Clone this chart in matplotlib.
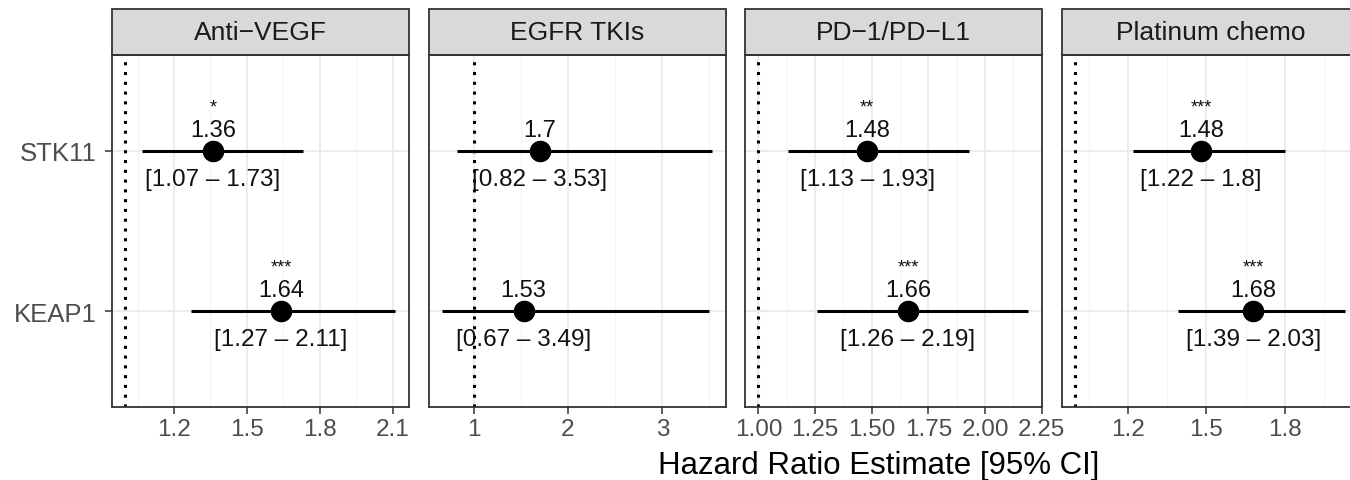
import matplotlib
matplotlib.use("Agg")
import matplotlib.pyplot as plt
from matplotlib.patches import Rectangle
from matplotlib.ticker import MultipleLocator, FormatStrFormatter

plt.rcParams['font.family'] = ['Liberation Sans', 'DejaVu Sans']

# данные
treatments = ['Anti\u2212VEGF', 'EGFR TKIs', 'PD\u22121/PD\u2212L1', 'Platinum chemo']
genes = ['STK11', 'KEAP1']
hr = [[1.36, 1.64], [1.70, 1.53], [1.48, 1.66], [1.48, 1.68]]
ci_low = [[1.07, 1.27], [0.82, 0.67], [1.13, 1.26], [1.22, 1.39]]
ci_high = [[1.73, 2.11], [3.53, 3.49], [1.93, 2.19], [1.80, 2.03]]
stars = [['*', '***'], ['', ''], ['**', '***'], ['***', '***']]

# шаги делений по оси x для каждой панели
major_step = [0.3, 1.0, 0.25, 0.3]
tick_fmt = ['%.1f', '%g', '%.2f', '%.1f']

W, H = 1350, 481
fig = plt.figure(figsize=(W / 100, H / 100), dpi=100)

lefts = [112, 429, 745, 1062]
pw = 297
top_px, bot_px = 56, 408
strip_h = 46 / (bot_px - top_px)

border = '#333333'
ypos = [2, 1]  # STK11 сверху, KEAP1 снизу

for i, name in enumerate(treatments):
    ax = fig.add_axes([lefts[i] / W, 1 - bot_px / H, pw / W, (bot_px - top_px) / H])

    lo_all = min(min(ci_low[i]), 1.0)
    hi_all = max(max(ci_high[i]), 1.0)
    pad = 0.05 * (hi_all - lo_all)
    ax.set_xlim(lo_all - pad, hi_all + pad + 0.002)
    ax.set_ylim(0.4, 2.6)

    ax.xaxis.set_major_locator(MultipleLocator(major_step[i]))
    ax.xaxis.set_minor_locator(MultipleLocator(major_step[i] / 2))
    ax.xaxis.set_major_formatter(FormatStrFormatter(tick_fmt[i]))
    ax.set_yticks(ypos)

    ax.set_axisbelow(True)
    ax.grid(which='major', color='#EBEBEB', lw=1.3)
    ax.grid(which='minor', axis='x', color='#F2F2F2', lw=0.7)

    ax.axvline(1, color='black', ls=(0, (1, 2.2)), lw=2.2, zorder=2)
    ax.hlines(ypos, ci_low[i], ci_high[i], color='black', lw=2.2, zorder=3)
    ax.plot(hr[i], ypos, 'o', ms=14.5, color='black', zorder=4)

    for j in range(len(genes)):
        y = ypos[j]
        ax.text(hr[i][j], y + 0.095, '%g' % hr[i][j], ha='center', va='baseline',
                fontsize=17, color='#111111', zorder=5)
        ax.text(hr[i][j], y - 0.215, '[%g \u2013 %g]' % (ci_low[i][j], ci_high[i][j]),
                ha='center', va='baseline', fontsize=17.5, color='#111111', zorder=5)
        if stars[i][j]:
            ax.text(hr[i][j], y + 0.245, stars[i][j], ha='center', va='baseline',
                    fontsize=13, color='#111111', zorder=5)

    for s in ax.spines.values():
        s.set_color(border)
        s.set_linewidth(1.3)

    ax.tick_params(axis='x', which='major', length=5, width=1.1, color=border,
                   labelsize=17.5, labelcolor='#4D4D4D', pad=3)
    ax.tick_params(axis='x', which='minor', length=0)
    if i == 0:
        ax.set_yticklabels(genes)
        ax.tick_params(axis='y', length=5, width=1.1, color=border,
                       labelsize=18.5, labelcolor='#4D4D4D', pad=6)
    else:
        ax.tick_params(axis='y', left=False, labelleft=False)

    # полоска с названием панели
    ax.add_patch(Rectangle((0, 1), 1, strip_h, transform=ax.transAxes, clip_on=False,
                           facecolor='#D9D9D9', edgecolor=border, lw=1.3))
    ax.text(0.5, 1 + strip_h / 2, name, transform=ax.transAxes, ha='center',
            va='center', fontsize=19, color='#1A1A1A')

fig.text(879 / W, 1 - 474 / H, 'Hazard Ratio Estimate [95% CI]', ha='center',
         va='baseline', fontsize=22.5, color='black')

fig.savefig('out.png', dpi=100)
